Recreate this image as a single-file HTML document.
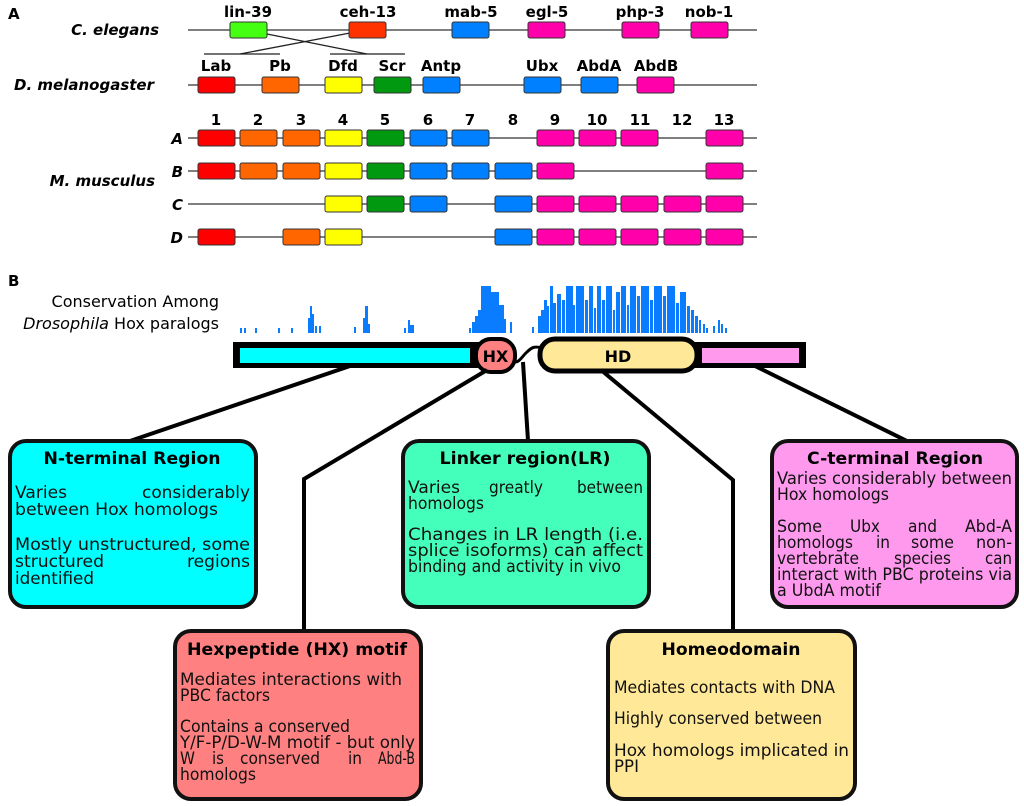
<!DOCTYPE html>
<html><head><meta charset="utf-8">
<style>
html,body{margin:0;padding:0;background:#fff;}
svg{display:block;font-family:"DejaVu Sans","Liberation Sans",sans-serif;}
.b{font-weight:bold;}
</style></head><body>
<svg width="1024" height="806" viewBox="0 0 1024 806" xmlns="http://www.w3.org/2000/svg">
<!-- Panel A -->
<text x="8" y="19" class="b" font-size="15">A</text>
<g font-size="15" class="b" font-style="italic" text-anchor="end">
<text x="159" y="35">C. elegans</text>
<text x="154" y="90">D. melanogaster</text>
<text x="155" y="186">M. musculus</text>
<text x="183" y="144">A</text>
<text x="183" y="177">B</text>
<text x="183" y="210">C</text>
<text x="183" y="243">D</text>
</g>
<g stroke="#555" stroke-width="1.5">
<line x1="188" y1="30" x2="757" y2="30"/>
<line x1="188" y1="85" x2="757" y2="85"/>
<line x1="188" y1="138" x2="757" y2="138"/>
<line x1="188" y1="171" x2="757" y2="171"/>
<line x1="188" y1="204" x2="757" y2="204"/>
<line x1="188" y1="237" x2="757" y2="237"/>
</g>
<g stroke="#222" stroke-width="1.3">
<line x1="204" y1="54" x2="280" y2="54"/>
<line x1="330" y1="54" x2="405" y2="54"/>
<line x1="267" y1="34" x2="367" y2="54"/>
<line x1="350" y1="33" x2="240" y2="54"/>
</g>
<g stroke="#333" stroke-width="1" >
<rect x="230" y="22" width="37" height="16" rx="2" fill="#44ff11"/>
<rect x="349" y="22" width="37" height="16" rx="2" fill="#ff3300"/>
<rect x="452" y="22" width="37" height="16" rx="2" fill="#0080ff"/>
<rect x="528" y="22" width="37" height="16" rx="2" fill="#ff00aa"/>
<rect x="622" y="22" width="37" height="16" rx="2" fill="#ff00aa"/>
<rect x="691" y="22" width="37" height="16" rx="2" fill="#ff00aa"/>
<rect x="198" y="77" width="37" height="16" rx="2" fill="#ff0000"/>
<rect x="262" y="77" width="37" height="16" rx="2" fill="#ff6600"/>
<rect x="325" y="77" width="37" height="16" rx="2" fill="#ffff00"/>
<rect x="374" y="77" width="37" height="16" rx="2" fill="#009910"/>
<rect x="423" y="77" width="37" height="16" rx="2" fill="#0080ff"/>
<rect x="524" y="77" width="37" height="16" rx="2" fill="#0080ff"/>
<rect x="581" y="77" width="37" height="16" rx="2" fill="#0080ff"/>
<rect x="637" y="77" width="37" height="16" rx="2" fill="#ff00aa"/>
<rect x="198" y="130" width="37" height="16" rx="2" fill="#ff0000"/>
<rect x="240" y="130" width="37" height="16" rx="2" fill="#ff6600"/>
<rect x="283" y="130" width="37" height="16" rx="2" fill="#ff6600"/>
<rect x="325" y="130" width="37" height="16" rx="2" fill="#ffff00"/>
<rect x="367" y="130" width="37" height="16" rx="2" fill="#009910"/>
<rect x="410" y="130" width="37" height="16" rx="2" fill="#0080ff"/>
<rect x="452" y="130" width="37" height="16" rx="2" fill="#0080ff"/>
<rect x="537" y="130" width="37" height="16" rx="2" fill="#ff00aa"/>
<rect x="579" y="130" width="37" height="16" rx="2" fill="#ff00aa"/>
<rect x="621" y="130" width="37" height="16" rx="2" fill="#ff00aa"/>
<rect x="706" y="130" width="37" height="16" rx="2" fill="#ff00aa"/>
<rect x="198" y="163" width="37" height="16" rx="2" fill="#ff0000"/>
<rect x="240" y="163" width="37" height="16" rx="2" fill="#ff6600"/>
<rect x="283" y="163" width="37" height="16" rx="2" fill="#ff6600"/>
<rect x="325" y="163" width="37" height="16" rx="2" fill="#ffff00"/>
<rect x="367" y="163" width="37" height="16" rx="2" fill="#009910"/>
<rect x="410" y="163" width="37" height="16" rx="2" fill="#0080ff"/>
<rect x="452" y="163" width="37" height="16" rx="2" fill="#0080ff"/>
<rect x="495" y="163" width="37" height="16" rx="2" fill="#0080ff"/>
<rect x="537" y="163" width="37" height="16" rx="2" fill="#ff00aa"/>
<rect x="706" y="163" width="37" height="16" rx="2" fill="#ff00aa"/>
<rect x="325" y="196" width="37" height="16" rx="2" fill="#ffff00"/>
<rect x="367" y="196" width="37" height="16" rx="2" fill="#009910"/>
<rect x="410" y="196" width="37" height="16" rx="2" fill="#0080ff"/>
<rect x="495" y="196" width="37" height="16" rx="2" fill="#0080ff"/>
<rect x="537" y="196" width="37" height="16" rx="2" fill="#ff00aa"/>
<rect x="579" y="196" width="37" height="16" rx="2" fill="#ff00aa"/>
<rect x="621" y="196" width="37" height="16" rx="2" fill="#ff00aa"/>
<rect x="664" y="196" width="37" height="16" rx="2" fill="#ff00aa"/>
<rect x="706" y="196" width="37" height="16" rx="2" fill="#ff00aa"/>
<rect x="198" y="229" width="37" height="16" rx="2" fill="#ff0000"/>
<rect x="283" y="229" width="37" height="16" rx="2" fill="#ff6600"/>
<rect x="325" y="229" width="37" height="16" rx="2" fill="#ffff00"/>
<rect x="495" y="229" width="37" height="16" rx="2" fill="#0080ff"/>
<rect x="537" y="229" width="37" height="16" rx="2" fill="#ff00aa"/>
<rect x="579" y="229" width="37" height="16" rx="2" fill="#ff00aa"/>
<rect x="621" y="229" width="37" height="16" rx="2" fill="#ff00aa"/>
<rect x="664" y="229" width="37" height="16" rx="2" fill="#ff00aa"/>
<rect x="706" y="229" width="37" height="16" rx="2" fill="#ff00aa"/>
</g>
<g class="b" font-size="15" text-anchor="middle">
<text x="248" y="17">lin-39</text><text x="368" y="17">ceh-13</text><text x="471" y="17">mab-5</text>
<text x="547" y="17">egl-5</text><text x="640" y="17">php-3</text><text x="709" y="17">nob-1</text>
<text x="216" y="71">Lab</text><text x="280" y="71">Pb</text><text x="343" y="71">Dfd</text>
<text x="392" y="71">Scr</text><text x="441" y="71">Antp</text><text x="542" y="71">Ubx</text>
<text x="599" y="71">AbdA</text><text x="656" y="71">AbdB</text>
<text x="216" y="125">1</text><text x="258" y="125">2</text><text x="301" y="125">3</text>
<text x="343" y="125">4</text><text x="385" y="125">5</text><text x="428" y="125">6</text>
<text x="470" y="125">7</text><text x="513" y="125">8</text><text x="555" y="125">9</text>
<text x="597" y="125">10</text><text x="640" y="125">11</text><text x="682" y="125">12</text>
<text x="724" y="125">13</text>
</g>

<!-- Panel B -->
<text x="8" y="286" class="b" font-size="15">B</text>
<text x="219" y="307" font-size="16" text-anchor="end">Conservation Among</text>
<text x="219" y="329" font-size="16" text-anchor="end"><tspan font-style="italic">Drosophila</tspan> Hox paralogs</text>

<g fill="#0a7cff">
<rect x="240" y="328" width="2" height="5"/><rect x="244" y="328" width="2" height="5"/>
<rect x="255" y="328" width="2" height="5"/><rect x="278" y="328" width="2" height="5"/>
<rect x="291" y="328" width="2" height="5"/>
<rect x="308" y="318" width="2" height="15"/><rect x="310" y="306" width="2" height="27"/><rect x="312" y="314" width="2" height="19"/>
<rect x="315" y="326" width="2" height="7"/><rect x="319" y="326" width="2" height="7"/>
<rect x="354" y="327" width="2" height="6"/><rect x="363" y="318" width="2" height="15"/><rect x="365" y="306" width="3" height="27"/><rect x="368" y="324" width="2" height="9"/>
<rect x="404" y="328" width="2" height="5"/><rect x="408" y="320" width="2" height="13"/><rect x="410" y="325" width="4" height="8"/>
<rect x="469" y="328" width="2" height="5"/><rect x="472" y="322" width="3" height="11"/><rect x="475" y="316" width="3" height="17"/><rect x="478" y="310" width="3" height="23"/>
<rect x="481" y="286" width="10" height="47"/><rect x="491" y="292" width="8" height="41"/><rect x="499" y="305" width="5" height="28"/>
<rect x="504" y="319" width="2" height="14"/><rect x="510" y="322" width="2" height="11"/>
<rect x="532" y="327" width="2" height="6"/>
<rect x="538" y="316" width="3" height="17"/><rect x="541" y="310" width="3" height="23"/><rect x="544" y="300" width="3" height="33"/>
<rect x="547" y="306" width="2" height="27"/><rect x="550" y="286" width="3" height="47"/>
<rect x="553" y="303" width="3" height="30"/><rect x="557" y="294" width="4" height="39"/>
<rect x="562" y="300" width="3" height="33"/><rect x="566" y="286" width="7" height="47"/>
<rect x="573" y="305" width="2" height="28"/><rect x="576" y="286" width="8" height="47"/>
<rect x="585" y="300" width="3" height="33"/><rect x="589" y="286" width="4" height="47"/>
<rect x="594" y="308" width="2" height="25"/><rect x="597" y="286" width="4" height="47"/>
<rect x="602" y="300" width="3" height="33"/><rect x="606" y="286" width="6" height="47"/>
<rect x="613" y="310" width="2" height="23"/><rect x="616" y="292" width="4" height="41"/>
<rect x="621" y="286" width="5" height="47"/><rect x="627" y="305" width="2" height="28"/>
<rect x="630" y="286" width="6" height="47"/><rect x="637" y="296" width="3" height="37"/>
<rect x="641" y="286" width="8" height="47"/><rect x="650" y="300" width="3" height="33"/>
<rect x="654" y="286" width="8" height="47"/><rect x="663" y="296" width="3" height="37"/>
<rect x="667" y="286" width="8" height="47"/><rect x="676" y="303" width="3" height="30"/>
<rect x="680" y="292" width="6" height="41"/><rect x="687" y="306" width="3" height="27"/>
<rect x="691" y="310" width="3" height="23"/><rect x="695" y="316" width="3" height="17"/>
<rect x="699" y="320" width="2" height="13"/><rect x="703" y="324" width="2" height="9"/>
<rect x="706" y="328" width="2" height="5"/><rect x="713" y="326" width="2" height="7"/>
<rect x="718" y="320" width="2" height="13"/><rect x="721" y="324" width="2" height="9"/><rect x="725" y="328" width="2" height="5"/>
</g>

<!-- protein bar -->
<rect x="233" y="342" width="262" height="26" fill="#000"/>
<rect x="560" y="342" width="246" height="26" fill="#000"/>
<rect x="240" y="348" width="230" height="15" fill="#00ffff"/>
<rect x="702" y="348" width="97" height="15" fill="#ff99ee"/>
<path d="M512 360 C518 366 522 356 527 352 C532 347 535 346 542 348" stroke="#000" stroke-width="3" fill="none"/>
<rect x="476" y="339" width="39" height="33" rx="15" fill="#ff8080" stroke="#000" stroke-width="4"/>
<text x="495.5" y="362" class="b" font-size="16" text-anchor="middle">HX</text>
<rect x="540" y="339" width="157" height="32" rx="15" fill="#ffe898" stroke="#000" stroke-width="5"/>
<text x="618" y="362" class="b" font-size="16" text-anchor="middle">HD</text>

<!-- connectors -->
<g stroke="#000" stroke-width="4" fill="none">
<line x1="350" y1="366" x2="130" y2="441"/>
<polyline points="487,370 304,479 304,631"/>
<line x1="523" y1="362" x2="528" y2="441"/>
<polyline points="601,370 733,480 733,631"/>
<line x1="755" y1="366" x2="907" y2="441"/>
</g>

<!-- boxes -->
<g stroke="#111" stroke-width="4">
<rect x="10" y="441" width="246" height="166" rx="16" fill="#00ffff"/>
<rect x="403" y="441" width="246" height="166" rx="16" fill="#44ffbb"/>
<rect x="772" y="441" width="245" height="166" rx="16" fill="#ff99ee"/>
<rect x="175" y="631" width="246" height="168" rx="16" fill="#ff8080"/>
<rect x="608" y="631" width="247" height="168" rx="16" fill="#ffe898"/>
</g>

<g class="b" font-size="16.5" text-anchor="middle">
<text x="132" y="464" textLength="177" lengthAdjust="spacingAndGlyphs">N-terminal Region</text>
<text x="525" y="464" textLength="171" lengthAdjust="spacingAndGlyphs">Linker region(LR)</text>
<text x="895" y="464" textLength="176" lengthAdjust="spacingAndGlyphs">C-terminal Region</text>
<text x="297" y="655" textLength="220" lengthAdjust="spacingAndGlyphs">Hexpeptide (HX) motif</text>
<text x="731" y="655" textLength="139" lengthAdjust="spacingAndGlyphs">Homeodomain</text>
</g>
<g font-size="16.5" fill="#111" lengthAdjust="spacingAndGlyphs">
<!-- N-term -->
<text x="15" y="498" textLength="52" lengthAdjust="spacingAndGlyphs">Varies</text><text x="142" y="498" textLength="108" lengthAdjust="spacingAndGlyphs">considerably</text>
<text x="15" y="515" textLength="203" lengthAdjust="spacingAndGlyphs">between Hox homologs</text>
<text x="15" y="550" textLength="235" lengthAdjust="spacingAndGlyphs">Mostly unstructured, some</text>
<text x="15" y="567" textLength="89" lengthAdjust="spacingAndGlyphs">structured</text><text x="187" y="567" textLength="63" lengthAdjust="spacingAndGlyphs">regions</text>
<text x="15" y="584" textLength="79" lengthAdjust="spacingAndGlyphs">identified</text>
<!-- Linker -->
<text x="408" y="493" textLength="52" lengthAdjust="spacingAndGlyphs">Varies</text><text x="489" y="493" textLength="54" lengthAdjust="spacingAndGlyphs">greatly</text><text x="577" y="493" textLength="66" lengthAdjust="spacingAndGlyphs">between</text>
<text x="408" y="509" textLength="76" lengthAdjust="spacingAndGlyphs">homologs</text>
<text x="408" y="540" textLength="235" lengthAdjust="spacingAndGlyphs">Changes  in  LR  length  (i.e.</text>
<text x="408" y="556" textLength="235" lengthAdjust="spacingAndGlyphs">splice  isoforms)  can  affect</text>
<text x="408" y="572" textLength="213" lengthAdjust="spacingAndGlyphs">binding and activity in vivo</text>
<!-- C-term -->
<text x="777" y="484" textLength="235" lengthAdjust="spacingAndGlyphs">Varies  considerably  between</text>
<text x="777" y="500" textLength="112" lengthAdjust="spacingAndGlyphs">Hox homologs</text>
<text x="777" y="532" textLength="45" lengthAdjust="spacingAndGlyphs">Some</text><text x="850" y="532" textLength="30" lengthAdjust="spacingAndGlyphs">Ubx</text><text x="908" y="532" textLength="29" lengthAdjust="spacingAndGlyphs">and</text><text x="965" y="532" textLength="47" lengthAdjust="spacingAndGlyphs">Abd-A</text>
<text x="777" y="548" textLength="76" lengthAdjust="spacingAndGlyphs">homologs</text><text x="876" y="548" textLength="14" lengthAdjust="spacingAndGlyphs">in</text><text x="911" y="548" textLength="43" lengthAdjust="spacingAndGlyphs">some</text><text x="976" y="548" textLength="36" lengthAdjust="spacingAndGlyphs">non-</text>
<text x="777" y="564" textLength="82" lengthAdjust="spacingAndGlyphs">vertebrate</text><text x="894" y="564" textLength="57" lengthAdjust="spacingAndGlyphs">species</text><text x="985" y="564" textLength="27" lengthAdjust="spacingAndGlyphs">can</text>
<text x="777" y="580" textLength="235" lengthAdjust="spacingAndGlyphs">interact with PBC proteins via</text>
<text x="777" y="596" textLength="104" lengthAdjust="spacingAndGlyphs">a UbdA motif</text>
<!-- HX -->
<text x="180" y="685" textLength="222" lengthAdjust="spacingAndGlyphs">Mediates  interactions  with</text>
<text x="180" y="701" textLength="90" lengthAdjust="spacingAndGlyphs">PBC factors</text>
<text x="180" y="732" textLength="170" lengthAdjust="spacingAndGlyphs">Contains a conserved</text>
<text x="180" y="748" textLength="235" lengthAdjust="spacingAndGlyphs">Y/F-P/D-W-M motif - but only</text>
<text x="180" y="764" textLength="15" lengthAdjust="spacingAndGlyphs">W</text><text x="212" y="764" textLength="12" lengthAdjust="spacingAndGlyphs">is</text><text x="240" y="764" textLength="80" lengthAdjust="spacingAndGlyphs">conserved</text><text x="348" y="764" textLength="14" lengthAdjust="spacingAndGlyphs">in</text><text x="378" y="764" textLength="37" lengthAdjust="spacingAndGlyphs">Abd-B</text>
<text x="180" y="780" textLength="76" lengthAdjust="spacingAndGlyphs">homologs</text>
<!-- HD -->
<text x="614" y="693" textLength="221" lengthAdjust="spacingAndGlyphs">Mediates contacts with DNA</text>
<text x="614" y="724" textLength="208" lengthAdjust="spacingAndGlyphs">Highly conserved between</text>
<text x="614" y="756" textLength="235" lengthAdjust="spacingAndGlyphs">Hox  homologs   implicated  in</text>
<text x="614" y="772" textLength="25" lengthAdjust="spacingAndGlyphs">PPI</text>
</g>
</svg>
</body></html>
